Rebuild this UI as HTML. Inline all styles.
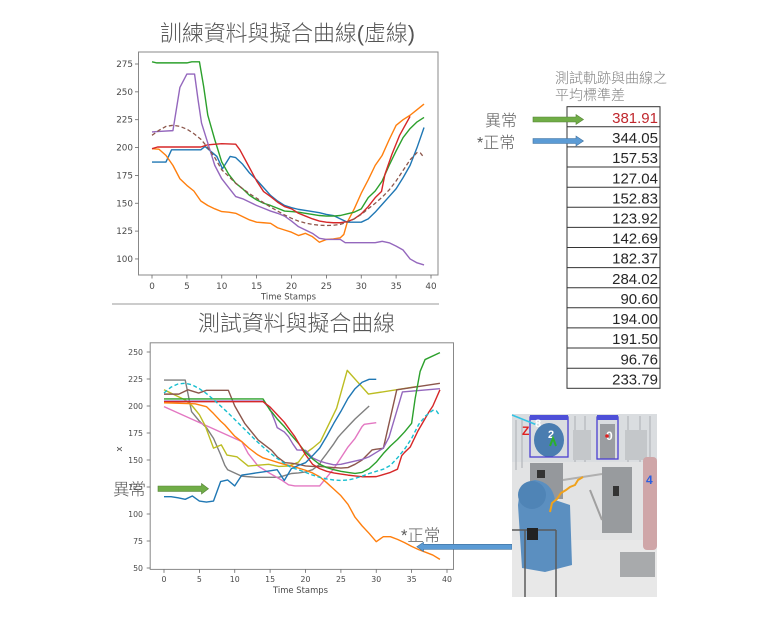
<!DOCTYPE html>
<html><head><meta charset="utf-8">
<style>
html,body{margin:0;padding:0;background:#fff;}
svg{display:block;}
.tk{font-family:"DejaVu Sans","Liberation Sans",sans-serif;fill:#4a4a4a;}
.cjk{font-family:"Liberation Sans","Noto Sans CJK TC Light","Noto Sans CJK TC",sans-serif;}
.s polyline{fill:none;stroke-width:1.4;stroke-linejoin:round;vector-effect:non-scaling-stroke;}
</style></head>
<body>
<svg width="783" height="621" viewBox="0 0 783 621" xmlns="http://www.w3.org/2000/svg">
<rect width="783" height="621" fill="#fff"/>

<!-- ================= TOP CHART ================= -->
<text class="cjk" x="160" y="41" font-size="22" font-weight="300" fill="#555" textLength="255" lengthAdjust="spacingAndGlyphs">訓練資料與擬合曲線(虛線)</text>
<rect x="138.5" y="52" width="299.5" height="223" fill="none" stroke="#888" stroke-width="1"/>
<g stroke="#666" stroke-width="0.8">
<line x1="135" y1="64" x2="138.5" y2="64"/><line x1="135" y1="91.85" x2="138.5" y2="91.85"/>
<line x1="135" y1="119.7" x2="138.5" y2="119.7"/><line x1="135" y1="147.55" x2="138.5" y2="147.55"/>
<line x1="135" y1="175.4" x2="138.5" y2="175.4"/><line x1="135" y1="203.25" x2="138.5" y2="203.25"/>
<line x1="135" y1="231.1" x2="138.5" y2="231.1"/><line x1="135" y1="258.95" x2="138.5" y2="258.95"/>
<line x1="152" y1="275" x2="152" y2="278.5"/><line x1="186.9" y1="275" x2="186.9" y2="278.5"/>
<line x1="221.75" y1="275" x2="221.75" y2="278.5"/><line x1="256.6" y1="275" x2="256.6" y2="278.5"/>
<line x1="291.5" y1="275" x2="291.5" y2="278.5"/><line x1="326.4" y1="275" x2="326.4" y2="278.5"/>
<line x1="361.25" y1="275" x2="361.25" y2="278.5"/><line x1="396.1" y1="275" x2="396.1" y2="278.5"/>
<line x1="431" y1="275" x2="431" y2="278.5"/>
</g>
<g class="tk" font-size="8.8" text-anchor="end">
<text x="133" y="67">275</text><text x="133" y="94.9">250</text><text x="133" y="122.7">225</text>
<text x="133" y="150.6">200</text><text x="133" y="178.4">175</text><text x="133" y="206.3">150</text>
<text x="133" y="234.1">125</text><text x="133" y="262">100</text>
</g>
<g class="tk" font-size="8.8" text-anchor="middle">
<text x="152" y="289">0</text><text x="186.9" y="289">5</text><text x="221.75" y="289">10</text>
<text x="256.6" y="289">15</text><text x="291.5" y="289">20</text><text x="326.4" y="289">25</text>
<text x="361.25" y="289">30</text><text x="396.1" y="289">35</text><text x="431" y="289">40</text>
</g>
<text class="tk" x="261" y="299.5" font-size="8.8" textLength="55" lengthAdjust="spacingAndGlyphs">Time Stamps</text>

<g class="s" transform="translate(152,370.35) scale(6.975,-1.114)">
<polyline stroke="#1f77b4" points="0,187 1,187 2,187 2.8,198 7,198 7.6,201 9.3,192 10.1,181 11.2,192 12,191 13,185 14,177 15,171 16,164 17,157 18,152 19,148 20,146 21,144.5 22,143.5 23,142.5 24,141.5 25,140 26,139 27,136 28,133 29,133 30,133 31,136 32,142 33,149 34,156 35,163 36,173 37,184 38,200 39,218"/>
<polyline stroke="#ff7f0e" points="0,199 1,198.5 2,193 3,184 4,172 5,166 6,161 7,152 8,148 9,145 10,142.5 11,142 12,141 13,138 14,135 15,133 16,132.5 17,132 18,128 19,126 20,124 21,121 22,123 23,120 24,115 25,117.5 26,118 27,119 27.5,122 28,133 29,145 30,159 31,171 32,184 33,193 34,207 35,220 36,225 37,229 38,234 39,239"/>
<polyline stroke="#2ca02c" points="0,277 0.7,276 5,276 5.7,277 6.8,277 7.4,255 8,229 9,207 10,187 11,176 12,168 13,163 14,157 15,153 16,150 17,148 18,145.5 19,143 20,142.5 21,142 22,141 23,140 24,139 25,138.5 26,138.5 27,139 28,140.5 29,142 30,145 31,155 32,161 33,170 34,184 35,197 36,209 37,217 38,223 39,227"/>
<polyline stroke="#d62728" points="0,199 0.8,200.5 7,200.5 8,202.5 10,203.5 12,203 12.6,198 13.8,184 15,170 16,160.5 17,156 18,151 19,147 20,145 21,141 22,138.5 23,136 24,134 25,133 26,132.5 27,132.5 28,133.5 29,136 30,140.5 31,147 32,155 32.9,160.5 33.4,176 34.4,194 35.5,211 37,228"/>
<polyline stroke="#9467bd" points="0,214 1,214.5 3,215.2 4,254 5,266 6.1,266 6.6,243 7.1,222 8,204 9,184 10,172 11,164 12,156 13,154 14,151 15,148 16,145.5 17,143 18,141 19,138.5 20,134 21,129 22,126 23,123 24,118.5 25,117.5 27,117.5 27.7,114.6 32,114.6 33,115.8 34,114.5 35,111.5 36,108 37,100 38,96.5 39,94.6"/>
</g>
<polyline fill="none" stroke="#8c564b" stroke-width="1.3" stroke-dasharray="4,2.5" points="152,135.3 158.98,130.3 165.95,126.4 172.93,125.3 179.9,126.4 186.9,129.2 193.85,133.6 200.8,139.2 207.8,147.6 214.8,157.6 221.75,169.8 228.7,176.4 235.7,183.2 242.7,188.8 249.65,193.8 256.6,198.2 263.6,202.7 270.6,207.1 277.55,211 284.5,214.9 291.5,218.3 298.5,221.1 305.45,223 312.4,224.4 319.4,225.2 326.4,225.5 333.35,225.3 340.3,224.4 347.3,222.2 354.3,218.8 361.25,214.4 368.2,208.8 375.2,203.3 382.2,197.1 389.15,189.9 396.1,181 403.1,170.4 410.1,159.8 417.05,152.6 420.5,153.1 424,157.6"/>

<line x1="112" y1="304" x2="439" y2="304" stroke="#999" stroke-width="1"/>

<!-- ================= BOTTOM CHART ================= -->
<text class="cjk" x="198" y="331" font-size="22" font-weight="300" fill="#555" textLength="197" lengthAdjust="spacingAndGlyphs">測試資料與擬合曲線</text>
<rect x="150.2" y="342.8" width="303.3" height="226.6" fill="none" stroke="#888" stroke-width="1"/>
<g stroke="#666" stroke-width="0.8">
<line x1="146.7" y1="352" x2="150.2" y2="352"/><line x1="146.7" y1="379" x2="150.2" y2="379"/>
<line x1="146.7" y1="406" x2="150.2" y2="406"/><line x1="146.7" y1="433" x2="150.2" y2="433"/>
<line x1="146.7" y1="460" x2="150.2" y2="460"/><line x1="146.7" y1="487" x2="150.2" y2="487"/>
<line x1="146.7" y1="514" x2="150.2" y2="514"/><line x1="146.7" y1="541" x2="150.2" y2="541"/>
<line x1="146.7" y1="568" x2="150.2" y2="568"/>
<line x1="164" y1="569.4" x2="164" y2="572.9"/><line x1="199.4" y1="569.4" x2="199.4" y2="572.9"/>
<line x1="234.75" y1="569.4" x2="234.75" y2="572.9"/><line x1="270.1" y1="569.4" x2="270.1" y2="572.9"/>
<line x1="305.5" y1="569.4" x2="305.5" y2="572.9"/><line x1="340.9" y1="569.4" x2="340.9" y2="572.9"/>
<line x1="376.25" y1="569.4" x2="376.25" y2="572.9"/><line x1="411.6" y1="569.4" x2="411.6" y2="572.9"/>
<line x1="447" y1="569.4" x2="447" y2="572.9"/>
</g>
<g class="tk" font-size="7.8" text-anchor="end">
<text x="143" y="354.8">250</text><text x="143" y="381.8">225</text><text x="143" y="408.8">200</text>
<text x="143" y="435.8">175</text><text x="143" y="462.8">150</text><text x="143" y="489.8">125</text>
<text x="143" y="516.8">100</text><text x="143" y="543.8">75</text><text x="143" y="570.8">50</text>
</g>
<g class="tk" font-size="7.8" text-anchor="middle">
<text x="164" y="582">0</text><text x="199.4" y="582">5</text><text x="234.75" y="582">10</text>
<text x="270.1" y="582">15</text><text x="305.5" y="582">20</text><text x="340.9" y="582">25</text>
<text x="376.25" y="582">30</text><text x="411.6" y="582">35</text><text x="447" y="582">40</text>
</g>
<text class="tk" x="273" y="593" font-size="8.8" textLength="55" lengthAdjust="spacingAndGlyphs">Time Stamps</text>
<text class="tk" x="0" y="0" font-size="8.8" text-anchor="middle" transform="translate(122,449) rotate(-90)">x</text>

<g class="s" transform="translate(164,622) scale(7.075,-1.08)">
<polyline stroke="#7f7f7f" points="0,224 3,224 3.9,194.7 5,186 6,180 7,170 8,155 8.6,145 9,141 10,138 11,135 12,134.5 13,134 16.2,134 17,135.5 18,137.5 19,138 20,139 21,141 22,146 22.3,150 23,156 24,165 24.6,171 25,174 26,181 27,188 28,194 29,200"/>
<polyline stroke="#e377c2" points="0,199.4 11,167 11.9,156 13.3,144.4 15,137.5 16.6,131.5 17.6,127 18.5,126 22,126 23,134 24,142 25,152 26,162 27,170 28,181 28.3,183 30,184.5"/>
<polyline stroke="#bcbd22" points="0,215 3,205.6 4,200 5,192 5.8,182 7,161 8.1,164 8.9,154.6 10.3,153 11.9,144.4 14.8,146 16.2,144 17.6,144.4 19,148 19.9,156 21,161 22.1,167 24.4,198 25.9,233 28.9,211 35.7,218"/>
<polyline stroke="#8c564b" points="0,211 2.1,211 3.4,215 4.9,212 6,214.5 9.1,214.5 10,200 11.4,184 13.3,168.6 15.2,159 16,153 17.1,147.5 18,147 19,146 20,144.5 21,144 22,144 23,143.5 24,143 25,142.5 26,143 27,146 28,150 29.4,159.3 30,160 31,160.8 32.9,215 39,221"/>
<polyline stroke="#9467bd" points="0,204.6 14,204.6 15,197 15.7,185.5 16,180 17,176 17.6,171.6 18.2,165 18.8,159.3 20,159 21,152 22,149 23,147 24,145.5 25,146 26,147.5 27,149 28,150.5 29,153 30,157 31,161 31.8,171 33.7,213 39,216"/>
<polyline stroke="#2ca02c" points="0,206.5 14,206.5 15,196 15.2,194.7 16,188 17,181 18,173 19,165.5 20,157 21,151 22,146 23,143 24,141 25,139.5 26,138.5 27,137.6 28,138.5 29,142 30,148 31,156 32,163 33,169 34,176 35,184 35.5,207 36.2,232 36.9,243 39,249.4"/>
<polyline stroke="#d62728" points="0,204 14,204 15,199 16,192 17,185 18,176 18.5,171.6 19,166 20,155 21,146 22,142 23,139.5 24,138 25,137 26,136 27,135.2 28,134.5 29,134.5 30,134.6 31,136.5 32,138.5 33,141.5 33.6,154 34,157 34.8,162 35.9,177 37.4,194 38,200 39,215"/>
<polyline stroke="#ff7f0e" points="0,203 4.4,202 6,199.4 7,193 8,186 8.6,182.4 10,172 11,167 12,161 13,156 13.3,154.6 14,152 15,150 16.2,147.5 17,146 18,144.5 19,142.5 20,140.5 21,138 22,134.5 23,129 24,123 25,117 26,109 27,97 28,89 29,82 30,74.4 31,79 32,79 33,76.5 34,73.5 35,70 36,67 37,64.5 38,62 39,58"/>
<polyline stroke="#1f77b4" points="0,116 1,116 2,115 3,113.6 4,116.7 5,112 6,111 7,112 8,130 9,131.5 10,126 11,136 12,137 13,138 14,139 15,140 16,141 17,131 18,142 19,145 20,147.5 21,154 22,161 23,172 24,184 25,195 26,207 27,216 28,222 29,224.7 30,224.7"/>
</g>
<polyline fill="none" stroke="#17becf" stroke-width="1.4" stroke-dasharray="4,2.5" points="164,393 171.1,387.1 178.15,383.9 185.2,383.3 192.3,384.9 199.4,388.7 206.45,393.6 213.5,399.5 220.6,406 227.7,412.5 234.75,419.5 241.8,426.5 248.9,433.5 256,440.6 263.05,447 270.1,453 277.2,458.4 284.3,463.2 291.35,467.6 298.4,469.7 305.5,472.4 312.6,475.1 319.65,477.3 326.7,478.9 333.8,480 340.9,480.5 347.95,480 355,478.4 362.1,476.2 369.2,473.5 376.25,471.3 383.3,469.2 390.4,465.4 397.5,457.8 404.55,449.2 411.6,438.4 418.7,424.4 425.8,415.7 432.85,410.3 436.4,410.9 439.9,415.7"/>

<!-- chart annotations -->
<text class="cjk" x="113" y="495" font-size="16.5" font-weight="300" fill="#5a5a5a">異常</text>
<polygon points="158,486 201.5,486 201.5,483.5 208.5,488.7 201.5,494 201.5,491.4 158,491.4" fill="#70ad47" stroke="#548235" stroke-width="0.6"/>
<text class="cjk" x="401" y="541" font-size="16.5" font-weight="300" fill="#5a5a5a">*正常</text>
<polygon points="416.8,546.8 423.5,542.3 423.5,544.3 512,544.3 512,549.3 423.5,549.3 423.5,551.5" fill="#5b9bd5" stroke="#41719c" stroke-width="0.6"/>

<!-- ================= TABLE ================= -->
<text class="cjk" x="555" y="83" font-size="14" font-weight="300" fill="#808080" textLength="112" lengthAdjust="spacingAndGlyphs">測試軌跡與曲線之</text>
<text class="cjk" x="555" y="100" font-size="14" font-weight="300" fill="#808080" textLength="70" lengthAdjust="spacingAndGlyphs">平均標準差</text>
<g stroke="#333" stroke-width="1" fill="none">
<rect x="567" y="106.7" width="93" height="281.6"/>
<line x1="567" y1="126.8" x2="660" y2="126.8"/><line x1="567" y1="146.9" x2="660" y2="146.9"/>
<line x1="567" y1="167" x2="660" y2="167"/><line x1="567" y1="187.2" x2="660" y2="187.2"/>
<line x1="567" y1="207.3" x2="660" y2="207.3"/><line x1="567" y1="227.4" x2="660" y2="227.4"/>
<line x1="567" y1="247.5" x2="660" y2="247.5"/><line x1="567" y1="267.6" x2="660" y2="267.6"/>
<line x1="567" y1="287.7" x2="660" y2="287.7"/><line x1="567" y1="307.8" x2="660" y2="307.8"/>
<line x1="567" y1="327.9" x2="660" y2="327.9"/><line x1="567" y1="348" x2="660" y2="348"/>
<line x1="567" y1="368.2" x2="660" y2="368.2"/>
</g>
<g font-family="Liberation Sans, sans-serif" font-size="15" text-anchor="end" fill="#262626">
<text x="658" y="123" fill="#c0272d">381.91</text>
<text x="658" y="143.1">344.05</text>
<text x="658" y="163.2">157.53</text>
<text x="658" y="183.3">127.04</text>
<text x="658" y="203.4">152.83</text>
<text x="658" y="223.5">123.92</text>
<text x="658" y="243.6">142.69</text>
<text x="658" y="263.7">182.37</text>
<text x="658" y="283.9">284.02</text>
<text x="658" y="304">90.60</text>
<text x="658" y="324.1">194.00</text>
<text x="658" y="344.2">191.50</text>
<text x="658" y="364.3">96.76</text>
<text x="658" y="384.4">233.79</text>
</g>
<text class="cjk" x="485" y="126" font-size="16" font-weight="300" fill="#5a5a5a">異常</text>
<text class="cjk" x="477" y="148" font-size="16" font-weight="300" fill="#5a5a5a">*正常</text>
<polygon points="533,117 576,117 576,114.5 583.5,119.5 576,124.5 576,122 533,122" fill="#70ad47" stroke="#548235" stroke-width="0.6"/>
<polygon points="533,138.5 576,138.5 576,136 583.5,141 576,146 576,143.5 533,143.5" fill="#5b9bd5" stroke="#41719c" stroke-width="0.6"/>

<!-- ================= PHOTO ================= -->
<g>
<rect x="512" y="414" width="145" height="183" fill="#e2e3e4"/>
<rect x="512" y="414" width="145" height="48" fill="#dadde0"/>
<g stroke="#b4b7ba" stroke-width="1.2">
<line x1="516" y1="420" x2="516" y2="470"/><line x1="522" y1="420" x2="522" y2="468"/>
<line x1="575" y1="416" x2="575" y2="462"/><line x1="585" y1="416" x2="585" y2="462"/>
<line x1="628" y1="416" x2="628" y2="462"/><line x1="640" y1="416" x2="640" y2="462"/>
<line x1="650" y1="416" x2="650" y2="470"/>
</g>
<rect x="573" y="430" width="18" height="30" fill="#c4c7ca"/>
<rect x="625" y="430" width="22" height="30" fill="#c4c7ca"/>
<rect x="512" y="540" width="145" height="57" fill="#e8e8e8"/>
<rect x="620" y="552" width="35" height="25" fill="#a8aaac"/>
<ellipse cx="549" cy="440" rx="15" ry="17" fill="#4a7db0"/>
<rect x="600" y="424" width="15" height="35" fill="#9a9da1"/>
<rect x="530" y="417" width="38" height="40" fill="none" stroke="#4b3fd0" stroke-width="1.3"/>
<rect x="530" y="415" width="38" height="5" fill="#4d4fd8"/>
<rect x="597" y="417" width="21" height="42" fill="none" stroke="#4b3fd0" stroke-width="1.3"/>
<rect x="597" y="415" width="21" height="5" fill="#4d4fd8"/>
<line x1="512" y1="415" x2="537" y2="425" stroke="#35c3e3" stroke-width="1.5"/>
<rect x="530" y="463" width="33" height="36" fill="#95989c"/>
<rect x="537" y="470" width="8" height="8" fill="#333"/>
<rect x="602" y="467" width="30" height="66" fill="#989b9e"/>
<rect x="613" y="486" width="6" height="10" fill="#333"/>
<line x1="563" y1="480" x2="602" y2="474" stroke="#b0b0b0" stroke-width="2"/>
<line x1="590" y1="490" x2="602" y2="520" stroke="#a0a0a0" stroke-width="2"/>
<rect x="643" y="457" width="14" height="93" rx="4" fill="#cfa6a8"/>
<path d="M518,505 Q520,482 535,480 Q552,482 555,500 L570,505 L572,565 L545,572 L522,568 Z" fill="#5b8fc0"/>
<ellipse cx="532" cy="495" rx="14" ry="14" fill="#4f84b6"/>
<g stroke="#5a5a5a" stroke-width="1.5" fill="none">
<line x1="512" y1="530" x2="556" y2="530"/>
<line x1="525" y1="530" x2="525" y2="597"/>
<line x1="556" y1="530" x2="556" y2="597"/>
</g>
<rect x="527" y="528" width="11" height="12" fill="#222"/>
<polyline fill="none" stroke="#f0a21c" stroke-width="2" points="550,512 552,503 557,499 561,493 566,490 570,487 575,485 578,480 583,477"/>
<g font-family="Liberation Sans, sans-serif" font-weight="bold">
<text x="522" y="435" font-size="12" fill="#e02020">Z</text>
<text x="535" y="427" font-size="11" fill="#fff">8</text>
<text x="548" y="438" font-size="11" fill="#fff">2</text>
<text x="606" y="440" font-size="12" fill="#fff">0</text>
<text x="646" y="484" font-size="12" fill="#2a5fe0">4</text>
</g>
<circle cx="607" cy="436" r="1.8" fill="#e02020"/>
<path d="M550,446 L553,438 L556,446" stroke="#2ab02a" stroke-width="2" fill="none"/>
</g>
</svg>
</body></html>
